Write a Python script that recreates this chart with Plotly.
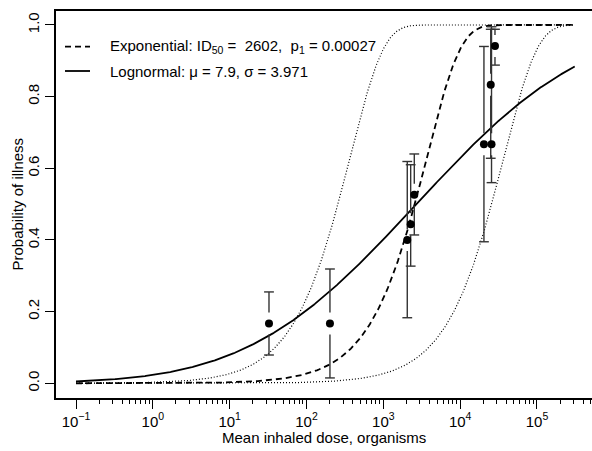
import math
import numpy as np
import plotly.graph_objects as go

# ---------------- data ----------------
dose = [32.5, 202, 2050, 2270, 2530, 20400, 25000, 25600, 28400]
p_ill = [0.167, 0.167, 0.400, 0.444, 0.526, 0.667, 0.833, 0.667, 0.941]
ci_low = [0.079, 0.015, 0.183, 0.327, 0.414, 0.395, 0.628, 0.560, 0.888]
ci_high = [0.255, 0.319, 0.619, 0.610, 0.640, 0.940, 0.988, 0.995, 0.988]

exp_p1 = 0.00027          # exponential fit
exp_p1_upper = 0.0027     # dotted bound (left)
exp_p1_lower = 0.000027   # dotted bound (right)
ln_mu = 7.9
ln_sigma = 3.971
dose_min, dose_max = 0.1, 3.1e5

x_tickvals = [1e-1, 1e0, 1e1, 1e2, 1e3, 1e4, 1e5]
x_ticktext = ["10<sup>\u22121</sup>", "10<sup>0</sup>", "10<sup>1</sup>", "10<sup>2</sup>",
              "10<sup>3</sup>", "10<sup>4</sup>", "10<sup>5</sup>"]
y_tickvals = [0.0, 0.2, 0.4, 0.6, 0.8, 1.0]

# ---------------- layout constants ----------------
W, H = 592, 451
ML, MR, MT, MB = 56, 0, 11, 53
PW, PH = W - ML - MR, H - MT - MB
FONT = "Liberation Sans, Arial, Helvetica, sans-serif"
FS = 15
X_RANGE = [-1.2603, 5.7161]
Y_RANGE = [-0.041, 1.039]


def px_x(px):
    return (px - ML) / PW


def px_y(py):
    return (H - MB - py) / PH


y_per_px = (Y_RANGE[1] - Y_RANGE[0]) / PH
GAP = 11 * y_per_px

xs = np.logspace(math.log10(dose_min), math.log10(dose_max), 500)
exp_curve = 1 - np.exp(-exp_p1 * xs)
exp_hi = 1 - np.exp(-exp_p1_upper * xs)
exp_lo = 1 - np.exp(-exp_p1_lower * xs)
ln_curve = np.array([0.5 * (1 + math.erf((math.log(v) - ln_mu) / (ln_sigma * math.sqrt(2)))) for v in xs])

fig = go.Figure()
fig.add_trace(go.Scatter(x=xs, y=exp_hi, mode="lines", line=dict(color="black", width=1.2, dash="1px,2px"), showlegend=False))
fig.add_trace(go.Scatter(x=xs, y=exp_lo, mode="lines", line=dict(color="black", width=1.2, dash="1px,2px"), showlegend=False))
fig.add_trace(go.Scatter(x=xs, y=exp_curve, mode="lines", line=dict(color="black", width=1.8, dash="6px,4px"), showlegend=False))
fig.add_trace(go.Scatter(x=xs, y=ln_curve, mode="lines", line=dict(color="black", width=1.8), showlegend=False))

# error bars with gap around the points
seg_x, seg_y = [], []
for d, p, lo, hi in zip(dose, p_ill, ci_low, ci_high):
    top_end = min(p + GAP, hi)
    bot_end = max(p - GAP, lo)
    seg_x += [d, d, None, d, d, None]
    seg_y += [hi, top_end, None, bot_end, lo, None]
fig.add_trace(go.Scatter(x=seg_x, y=seg_y, mode="lines", line=dict(color="#333", width=1.4), showlegend=False))
fig.add_trace(go.Scatter(x=dose + dose, y=ci_low + ci_high, mode="markers",
                         marker=dict(symbol="line-ew", size=7, line=dict(color="#333", width=1.4)), showlegend=False))
fig.add_trace(go.Scatter(x=dose, y=p_ill, mode="markers", marker=dict(color="black", size=8), showlegend=False))

# legend (drawn manually)
for py, dash in [(46.7, "6px,4px"), (71, "solid")]:
    fig.add_shape(type="line", xref="paper", yref="paper", x0=px_x(65), x1=px_x(90), y0=px_y(py), y1=px_y(py),
                  line=dict(color="black", width=1.8, dash=dash))
fig.add_annotation(xref="paper", yref="paper", x=px_x(108), y=px_y(46.7), xanchor="left", yanchor="middle",
                   showarrow=False, font=dict(family=FONT, size=FS, color="black"),
                   text="Exponential: ID<sub>50</sub> =  2602,  p<sub>1</sub> = 0.00027")
fig.add_annotation(xref="paper", yref="paper", x=px_x(108), y=px_y(71), xanchor="left", yanchor="middle",
                   showarrow=False, font=dict(family=FONT, size=FS, color="black"),
                   text="Lognormal: \u03bc = 7.9, \u03c3 = 3.971")

# axis titles
fig.add_annotation(xref="paper", yref="paper", x=0.5, y=px_y(437), xanchor="center", yanchor="middle",
                   showarrow=False, font=dict(family=FONT, size=FS, color="black"),
                   text="Mean inhaled dose, organisms")
fig.add_annotation(xref="paper", yref="paper", x=px_x(17), y=px_y(204.5), xanchor="center", yanchor="middle",
                   textangle=-90, showarrow=False, font=dict(family=FONT, size=FS, color="black"),
                   text="Probability of illness")

minor_vals = [m * 10.0 ** e for e in range(-1, 6) for m in range(2, 10)]

fig.update_layout(
    width=W, height=H, margin=dict(l=ML, r=MR, t=MT, b=MB),
    paper_bgcolor="white", plot_bgcolor="white",
    font=dict(family=FONT, size=FS, color="black"),
    xaxis=dict(type="log", range=X_RANGE, showgrid=False, zeroline=False,
               showline=True, mirror=True, linecolor="black", linewidth=1.5,
               ticks="outside", ticklen=9, tickwidth=1.3, tickcolor="black",
               tickvals=x_tickvals, ticktext=x_ticktext,
               tickfont=dict(family=FONT, size=FS, color="black"),
               minor=dict(tickvals=minor_vals, ticks="outside", ticklen=4, tickwidth=1.3, tickcolor="black", showgrid=False)),
    yaxis=dict(range=Y_RANGE, showgrid=False, zeroline=False,
               showline=True, linecolor="black", linewidth=1.5,
               ticks="outside", ticklen=9, tickwidth=1.3, tickcolor="black",
               tickfont=dict(family=FONT, size=FS, color="black"),
               tickvals=y_tickvals, tickformat=".1f", tickangle=-90),
)

fig.write_html("out.html")
